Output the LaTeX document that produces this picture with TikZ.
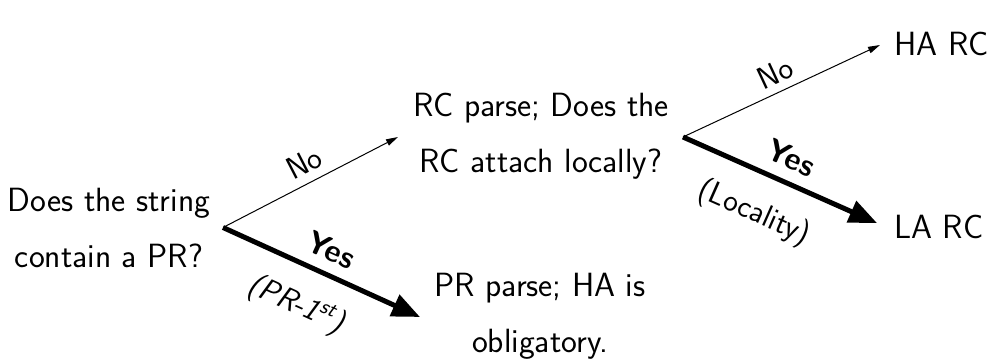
\documentclass[tikz,border=0pt]{standalone}
\usepackage{fontspec}
\usetikzlibrary{arrows.meta}

\tikzset{
  txt/.style={inner sep=0pt, align=center, font=\sffamily\fontsize{25.2}{42}\selectfont},
  lbl/.style={inner sep=0pt, font=\sffamily\fontsize{23.5}{26}\selectfont},
  nobranch/.style={line width=0.75pt, -{Triangle[length=9pt,width=5pt]}},
  yesbranch/.style={line width=3.75pt, -{Triangle[length=21pt,width=17pt]}},
}

\begin{document}
\begin{tikzpicture}[x=0.75pt,y=-0.75pt]
  \useasboundingbox (0,0) rectangle (996,363);

  % questions and outcomes
  \node[txt] (q1) at (109,227.5) {Does the string\\contain a PR?};
  \node[txt] (q2) at (541,136) {RC parse; Does the\\RC attach locally?};
  \node[txt] (pr) at (540,316.6) {PR parse; HA is\\obligatory.};
  \node[txt, anchor=west] (ha) at (894,43.8) {HA RC};
  \node[txt, anchor=west] (la) at (894,226.8) {LA RC};

  % branch points and arrow ends
  \coordinate (b1) at (223,227.5);
  \coordinate (b2) at (683,137);
  \coordinate (e1) at (398,137);
  \coordinate (e2) at (420,317);
  \coordinate (e3) at (880,45);
  \coordinate (e4) at (877,223);

  % first decision
  \draw[nobranch] (b1) -- (e1);
  \draw[yesbranch] (b1) -- (e2);
  \node[lbl, rotate=27.3] (no1) at (304,163) {No};
  \node[lbl, rotate=-24.4] (yes1) at (331,250) {\bfseries Yes};
  \node[lbl, rotate=-24.4] (why1) at (296,305) {\itshape (PR-1\textsuperscript{st})};

  % second decision
  \draw[nobranch] (b2) -- (e3);
  \draw[yesbranch] (b2) -- (e4);
  \node[lbl, rotate=25.0] (no2) at (775,73) {No};
  \node[lbl, rotate=-23.9] (yes2) at (791,158) {\bfseries Yes};
  \node[lbl, rotate=-23.9] (why2) at (754,213) {(Locality)};
\end{tikzpicture}
\end{document}
